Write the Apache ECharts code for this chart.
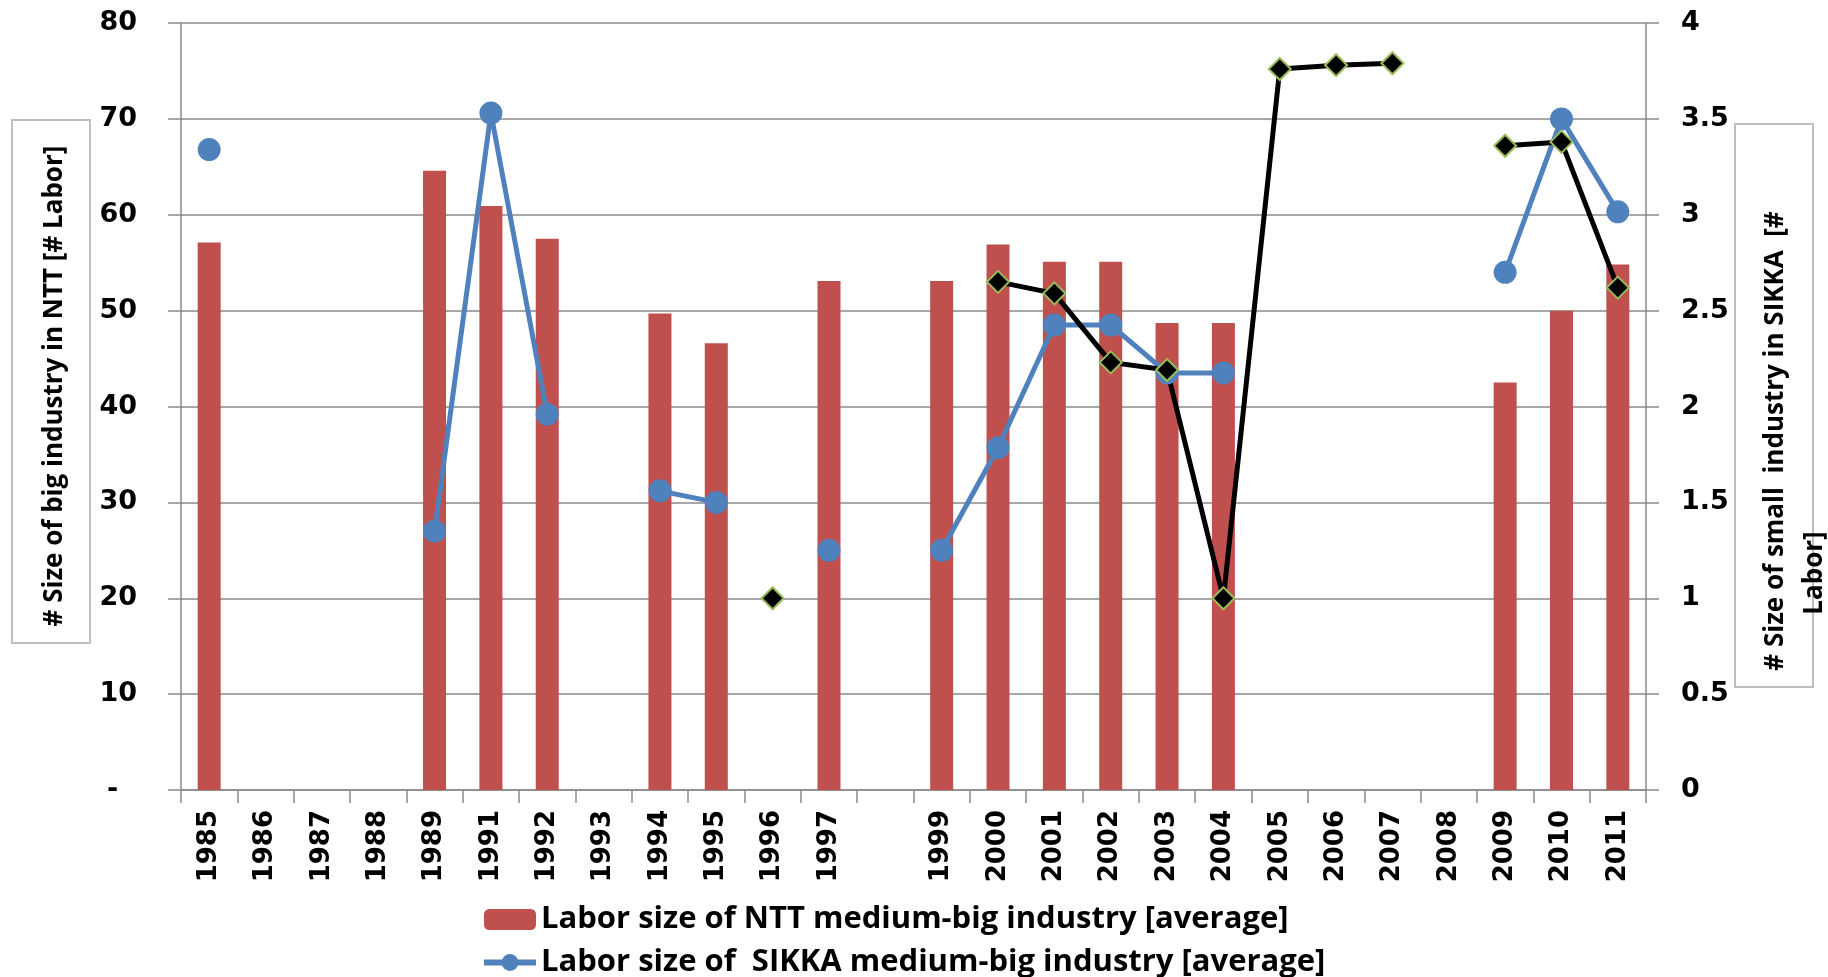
<!DOCTYPE html>
<html>
<head>
<meta charset="utf-8">
<title>Labor size NTT / SIKKA</title>
<script src="https://cdn.jsdelivr.net/npm/echarts@6.0.0/dist/echarts.min.js"></script>
<style>
    html, body { margin: 0; padding: 0; background: #fff; }
    #main { width: 1828px; height: 977px; }
</style>
</head>
<body>
<div id="main"></div>
<script>
// 年份（1997 和 1999 之间有一个空类目）
var years = ['1985', '1986', '1987', '1988', '1989', '1991', '1992', '1993', '1994', '1995', '1996', '1997', '',
    '1999', '2000', '2001', '2002', '2003', '2004', '2005', '2006', '2007', '2008', '2009', '2010', '2011'];

// NTT 中大型工业（左轴，柱）
var nttBig = [57.1, null, null, null, 64.6, 60.9, 57.5, null, 49.7, 46.6, null, 53.1, null,
    53.1, 56.9, 55.1, 55.1, 48.7, 48.7, null, null, null, null, 42.5, 50.0, 54.8];

// SIKKA 中大型工业（左轴，蓝线）
var sikkaBig = [66.8, null, null, null, 27.0, 70.6, 39.2, null, 31.2, 30.0, null, 25.0, null,
    25.0, 35.7, 48.5, 48.5, 43.5, 43.5, null, null, null, null, 54.0, 70.0, 60.3];

// SIKKA 小型工业（右轴，黑线）
var sikkaSmall = [null, null, null, null, null, null, null, null, null, null, 1.0, null, null,
    null, 2.65, 2.59, 2.23, 2.19, 1.0, 3.76, 3.78, 3.79, null, 3.36, 3.38, 2.62];

var seriesNames = [
    'Labor size of NTT medium-big industry [average]',
    'Labor size of  SIKKA medium-big industry [average]',
    'Labor size of  SIKKA small industry [average]'
];

var leftTitle = '# Size of big industry in NTT [# Labor]';
var rightTitle = ['# Size of small  industry in SIKKA  [#', 'Labor]'];

var numFont = "'DejaVu Sans', Verdana, sans-serif";
var textFont = "'Liberation Sans Narrow', 'Open Sans', sans-serif";
var gridGray = '#8a8a8a';

var myChart = echarts.init(document.getElementById('main'), null, {renderer: 'canvas'});

var option = {
    backgroundColor: '#fff',
    animation: false,
    grid: {
        left: 181,
        right: 182,
        top: 23,
        bottom: 187,
        containLabel: false
    },
    legend: {
        orient: 'vertical',
        left: 476,
        top: 899,
        height: 300,
        itemWidth: 52,
        itemHeight: 21,
        itemGap: 12,
        data: seriesNames,
        lineStyle: {width: 6},
        textStyle: {
            fontFamily: textFont,
            fontWeight: 'bold',
            fontSize: 31,
            color: '#000'
        }
    },
    xAxis: {
        type: 'category',
        data: years,
        boundaryGap: true,
        axisLine: {lineStyle: {color: gridGray, width: 1.5}},
        axisTick: {show: true, length: 13, interval: 0, lineStyle: {color: gridGray, width: 1.5}},
        axisLabel: {
            interval: 0,
            rotate: 90,
            margin: 20,
            color: '#000',
            fontFamily: numFont,
            fontWeight: 'bold',
            fontSize: 26
        }
    },
    yAxis: [
        {
            type: 'value',
            min: 0,
            max: 80,
            interval: 10,
            axisLine: {show: true, lineStyle: {color: gridGray, width: 1.5}},
            axisTick: {show: true, length: 13, lineStyle: {color: gridGray, width: 1.5}},
            splitLine: {show: true, lineStyle: {color: gridGray, width: 1.5}},
            axisLabel: {
                margin: 44,
                color: '#000',
                fontFamily: numFont,
                fontWeight: 'bold',
                fontSize: 27,
                formatter: function (v) {
                    return v === 0 ? '-  ' : v;
                }
            }
        },
        {
            type: 'value',
            position: 'right',
            min: 0,
            max: 4,
            interval: 0.5,
            axisLine: {show: true, lineStyle: {color: gridGray, width: 1.5}},
            axisTick: {show: true, length: 13, lineStyle: {color: gridGray, width: 1.5}},
            splitLine: {show: false},
            axisLabel: {
                margin: 35,
                color: '#000',
                fontFamily: numFont,
                fontWeight: 'bold',
                fontSize: 27
            }
        }
    ],
    series: [
        {
            name: seriesNames[0],
            type: 'bar',
            yAxisIndex: 0,
            barWidth: 23,
            itemStyle: {color: '#C0504D'},
            data: nttBig
        },
        {
            name: seriesNames[1],
            type: 'line',
            yAxisIndex: 0,
            connectNulls: false,
            showAllSymbol: true,
            symbol: 'circle',
            symbolSize: 23,
            lineStyle: {color: '#4F81BD', width: 5},
            itemStyle: {color: '#4F81BD'},
            data: sikkaBig
        },
        {
            name: seriesNames[2],
            type: 'line',
            yAxisIndex: 1,
            connectNulls: false,
            showAllSymbol: true,
            symbol: 'diamond',
            symbolSize: [22, 22],
            lineStyle: {color: '#000', width: 5},
            itemStyle: {color: '#000', borderColor: '#9BBB59', borderWidth: 2},
            data: sikkaSmall
        }
    ],
    graphic: [
        // 左轴标题框
        {
            type: 'rect',
            shape: {x: 12, y: 120, width: 78, height: 523},
            style: {fill: 'none', stroke: '#bfbfbf', lineWidth: 2}
        },
        {
            type: 'text',
            x: 55,
            y: 386,
            rotation: Math.PI / 2,
            style: {
                text: leftTitle,
                fill: '#000',
                font: 'bold 26px ' + textFont,
                align: 'center',
                verticalAlign: 'middle'
            }
        },
        // 右轴标题框
        {
            type: 'rect',
            shape: {x: 1735, y: 124, width: 78, height: 563},
            style: {fill: 'none', stroke: '#bfbfbf', lineWidth: 2}
        },
        {
            type: 'text',
            x: 1776,
            y: 441,
            rotation: Math.PI / 2,
            style: {
                text: rightTitle[0],
                fill: '#000',
                font: 'bold 26px ' + textFont,
                align: 'center',
                verticalAlign: 'middle'
            }
        },
        {
            type: 'text',
            x: 1815,
            y: 573,
            rotation: Math.PI / 2,
            style: {
                text: rightTitle[1],
                fill: '#000',
                font: 'bold 26px ' + textFont,
                align: 'center',
                verticalAlign: 'middle'
            }
        }
    ]
};

myChart.setOption(option);
</script>
</body>
</html>
